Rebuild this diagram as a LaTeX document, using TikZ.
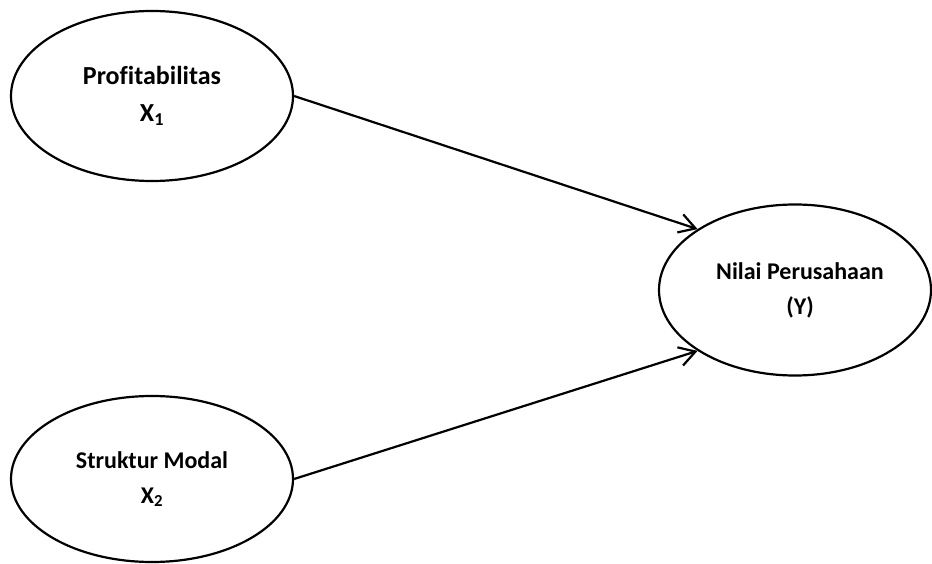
\documentclass[tikz,border=0pt]{standalone}
\usepackage{fontspec}
\setmainfont[Ligatures=NoCommon]{Carlito}
\usetikzlibrary{shapes.geometric,arrows.meta}
\tikzset{
  var/.style={ellipse, draw, line width=2.2pt, inner sep=0pt, align=center,
    font=\fontsize{24}{35}\selectfont\bfseries},
  big/.style={font=\fontsize{26}{37}\selectfont\bfseries},
  conn/.style={line width=2.2pt, -{Straight Barb[length=16pt,width=19pt,line width=2.2pt]}}
}
\begin{document}
\begin{tikzpicture}[x=1pt,y=1pt]
\useasboundingbox (0,0) rectangle (932,563);
\node[var, big, minimum width=282pt, minimum height=170pt] (x1) at (152,467) {Profitabilitas\\X\textsubscript{1}};
\node[var, minimum width=282pt, minimum height=166pt] (x2) at (152,84) {Struktur Modal\\X\textsubscript{2}};
\node[var, minimum width=272pt, minimum height=171pt] (y) at (795,273) {\hspace*{10pt}Nilai Perusahaan\\\hspace*{10pt}(Y)};
\draw[conn] (x1.east) -- (y.148.5);
\draw[conn] (x2.east) -- (y.212);
\end{tikzpicture}
\end{document}
